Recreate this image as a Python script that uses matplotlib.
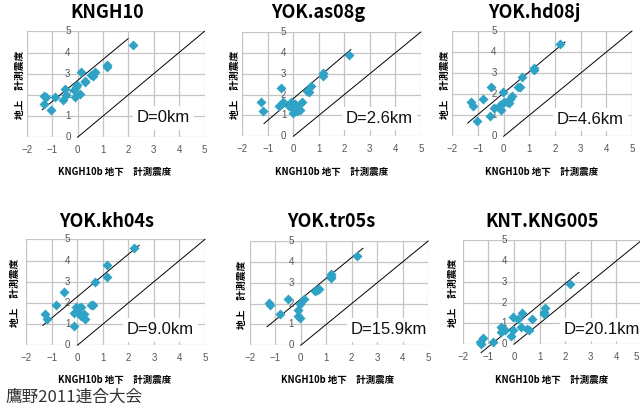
import matplotlib
matplotlib.use("Agg")
import matplotlib.pyplot as plt

# ---------------- data ----------------
titles = ["KNGH10", "YOK.as08g", "YOK.hd08j", "YOK.kh04s", "YOK.tr05s", "KNT.KNG005"]
distances = ["D=0km", "D=2.6km", "D=4.6km", "D=9.0km", "D=15.9km", "D=20.1km"]

kngh10_x = [2.2, 1.15, 1.17, 0.13, 0.68, 0.55, 0.6, 0.28, 0.3, -0.03, -0.07, -0.12, -0.5, -0.45, 0.1, -0.1, -0.58, -0.88, -1.33, -1.25, -1.3, -1.05]
kngh10_y = [4.35, 3.42, 3.33, 3.07, 3.1, 2.92, 2.88, 2.67, 2.63, 2.47, 2.35, 2.25, 2.27, 2.0, 2.03, 1.9, 1.78, 1.92, 1.95, 1.9, 1.57, 1.3]

as08g_x = [2.2, 1.15, 1.18, 0.68, 0.52, 0.6, -0.5, -1.28, -1.2, -0.4, -0.55, -0.1, -0.15, 0.0, 0.07, -0.03, 0.2, 0.26, 0.35, 0.13]
as08g_y = [3.92, 3.02, 2.9, 2.43, 2.15, 2.12, 2.32, 1.65, 1.23, 1.65, 1.43, 1.65, 1.43, 1.3, 1.55, 1.12, 1.37, 1.28, 1.65, 1.22]

hd08j_x = [2.2, 1.19, 1.17, 0.7, 0.55, 0.62, -0.48, -0.04, -1.27, -1.2, -0.8, 0.31, 0.26, 0.15, 0.22, 0.03, -0.13, -0.1, -0.36, -0.52, -1.02]
hd08j_y = [4.4, 3.25, 3.17, 2.8, 2.32, 2.32, 2.32, 2.12, 1.63, 1.43, 1.75, 1.92, 1.75, 1.63, 1.58, 1.62, 1.5, 1.25, 1.33, 0.95, 0.75]

kh04s_x = [2.2, 1.18, 1.15, 0.68, -0.52, -0.82, -1.28, -1.2, -0.05, 0.05, 0.13, 0.52, 0.6, -0.12, 0.0, 0.25, 0.16, 0.31, -0.12]
kh04s_y = [4.6, 3.78, 3.2, 3.0, 2.52, 1.9, 1.5, 1.22, 1.8, 1.78, 1.82, 1.92, 1.92, 1.52, 1.62, 1.5, 1.38, 1.22, 0.92]

tr05s_x = [2.2, 1.2, 1.17, 1.18, 0.7, 0.55, 0.62, -0.5, 0.13, -0.04, -1.25, -1.2, -0.83, -0.1, -0.1, -0.03]
tr05s_y = [4.27, 3.4, 3.22, 3.3, 2.72, 2.6, 2.65, 2.22, 2.2, 1.97, 2.03, 1.92, 1.5, 1.7, 1.4, 1.3]

kng005_x = [2.2, 1.2, 1.18, 1.17, 0.7, 0.31, -0.05, 0.15, 0.26, 0.52, 0.6, -0.02, -0.52, -0.43, -0.36, -0.5, -0.12, -0.83, -1.2, -1.32, -1.28]
kng005_y = [2.9, 1.72, 1.55, 1.45, 1.2, 1.5, 1.3, 1.2, 0.83, 0.72, 0.7, 0.7, 0.82, 0.75, 0.68, 0.6, 0.42, 0.1, 0.32, 0.1, 0.03]

series_x = [kngh10_x, as08g_x, hd08j_x, kh04s_x, tr05s_x, kng005_x]
series_y = [kngh10_y, as08g_y, hd08j_y, kh04s_y, tr05s_y, kng005_y]

# upper fitted lines: (x0, y0, x1, y1)
upper_lines = [
    (-1.39, 1.30, 1.99, 4.65),
    (-1.15, 0.61, 2.26, 4.16),
    (-1.40, 0.63, 2.39, 4.48),
    (-1.35, 0.94, 2.42, 4.72),
    (-1.32, 0.89, 2.44, 4.65),
    (-1.28, -0.40, 2.54, 3.45),
]
diag_line = (0, 0, 5, 5)

x_ticks = [-2, -1, 0, 1, 2, 3, 4, 5]
y_ticks = [0, 1, 2, 3, 4, 5]

xlabel_text = "KNGH10b 地下　計測震度"
ylabel_text = "地上　計測震度"
footer_text = "鷹野2011連合大会"

# ---------------- layout (pixels) ----------------
W, H = 640, 409
axes_px = [  # L, R, T, B
    (26.7, 204.5, 31.3, 137.3),
    (242.3, 420.8, 32.0, 136.3),
    (452.3, 632.0, 31.0, 136.3),
    (26.3, 205.0, 239.3, 345.3),
    (249.7, 428.2, 241.0, 345.3),
    (462.7, 642.0, 240.0, 344.3),
]
title_px = [(107, 13), (318, 13), (534, 13), (107, 222), (331, 222), (542, 222)]
ylabel_px = [(20, 85), (235, 85), (445, 85), (15, 293), (242, 295), (453, 293)]
xlabel_px = [(115, 172), (332, 172), (542, 172), (115, 380), (338, 380), (552, 380)]
dtext_px = [(137, 118), (346, 118.7), (557, 119.7), (127, 330), (351, 330), (564, 329.3)]

CJK = ["Noto Sans CJK JP", "DejaVu Sans"]
LAT = ["Liberation Sans", "DejaVu Sans"]
marker_color = "#2ea3c6"
grid_color = "#c4c4c4"
tick_color = "#555555"

fig = plt.figure(figsize=(W / 100, H / 100), dpi=100)
fig.patch.set_facecolor("white")

def fx(px):
    return px / W

def fy(py):
    return 1 - py / H

for i in range(6):
    L, R, T, B = axes_px[i]
    ax = fig.add_axes([fx(L), fy(B), (R - L) / W, (B - T) / H])
    ax.set_xlim(-2, 5)
    ax.set_ylim(0, 5)
    for s in ax.spines.values():
        s.set_visible(False)
    ax.set_xticks(x_ticks)
    ax.set_yticks(y_ticks)
    ax.grid(True, color=grid_color, lw=0.9, zorder=0)
    ax.set_axisbelow(True)
    ax.tick_params(axis="both", length=0, labelleft=False, labelbottom=False)
    unit_px = (R - L) / (x_ticks[-1] - x_ticks[0])
    for t in x_ticks:
        label = str(t).replace("-", "\u2212")
        px = L + (t - x_ticks[0]) * unit_px
        if px > W - 3:
            ax.annotate(label, xy=(t, 0), xycoords="data",
                        xytext=(W - 1 - px, -13), textcoords="offset pixels",
                        ha="right", va="center", fontsize=7, color=tick_color,
                        family=LAT, annotation_clip=False)
        else:
            ax.annotate(label, xy=(t, 0), xycoords="data", xytext=(0, -13),
                        textcoords="offset pixels", ha="center", va="center",
                        fontsize=7, color=tick_color, family=LAT,
                        annotation_clip=False)
    for t in y_ticks:
        ax.annotate(str(t), xy=(0, t), xycoords="data", xytext=(-7, 0),
                    textcoords="offset pixels", ha="right", va="center",
                    fontsize=7, color=tick_color, family=LAT, annotation_clip=False)
    # lines
    x0, y0, x1, y1 = upper_lines[i]
    ax.plot([x0, x1], [y0, y1], color="black", lw=0.7, zorder=2, clip_on=False)
    ax.plot([diag_line[0], diag_line[2]], [diag_line[1], diag_line[3]],
            color="black", lw=0.7, zorder=2, clip_on=False)
    # points
    ax.plot(series_x[i], series_y[i], linestyle="none", marker="D", markersize=4.6,
            color=marker_color, markeredgecolor="none", zorder=3, clip_on=False)
    # distance text
    dx, dy = dtext_px[i]
    fig.text(fx(dx), fy(dy), distances[i], ha="left", va="center", fontsize=12,
             family=LAT, color="#111111", zorder=5,
             bbox=dict(facecolor="white", edgecolor="none", pad=3))
    # title
    tx, ty = title_px[i]
    fig.text(fx(tx), fy(ty), titles[i], ha="center", va="center", fontsize=13,
             family=CJK, fontweight="bold", color="black")
    # y label
    lx, ly = ylabel_px[i]
    fig.text(fx(lx), fy(ly), ylabel_text, ha="center", va="center", rotation=90,
             fontsize=7, family=CJK, fontweight="bold", color="black")
    # x label
    xx, xy = xlabel_px[i]
    fig.text(fx(xx), fy(xy), xlabel_text, ha="center", va="center",
             fontsize=6.8, family=CJK, fontweight="bold", color="black")

fig.text(fx(5), fy(397), footer_text, ha="left", va="center", fontsize=12,
         family=CJK, color="#333333")

fig.savefig("out.png", dpi=100, facecolor="white")
